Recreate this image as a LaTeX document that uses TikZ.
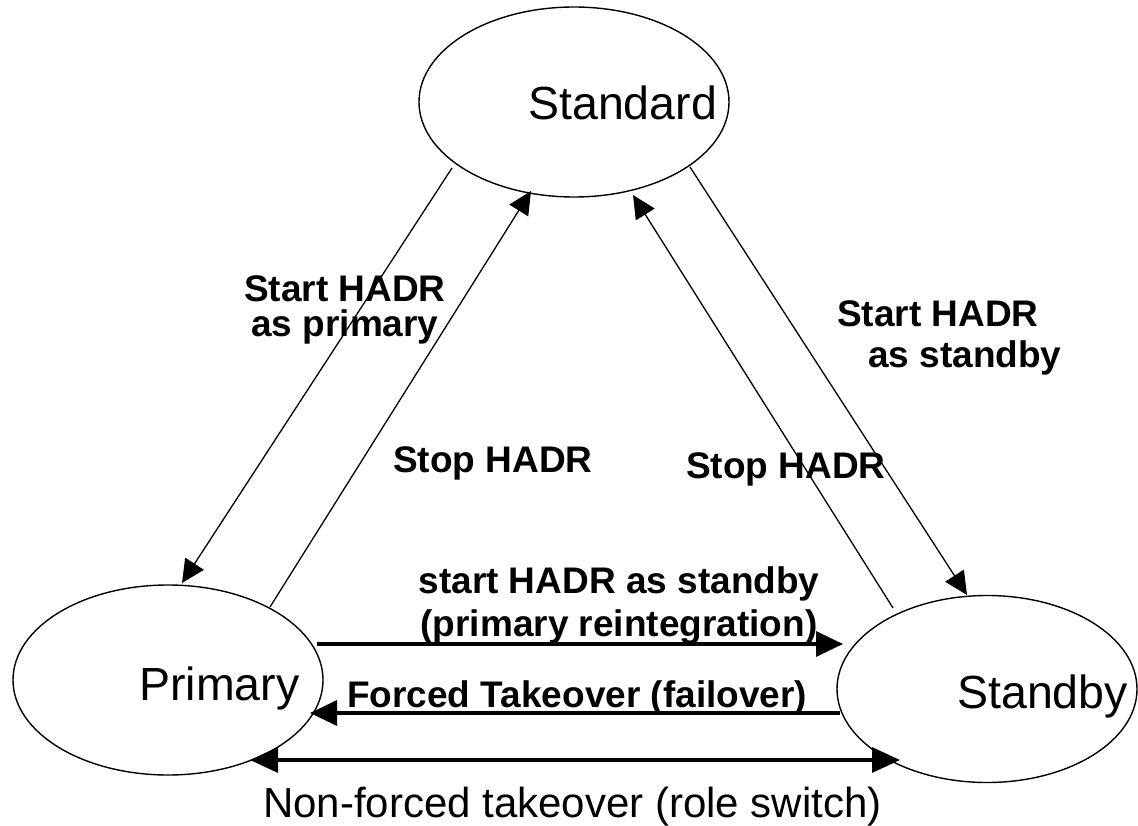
\documentclass[tikz,border=0pt]{standalone}
\usepackage{fontspec}
\setmainfont{Liberation Sans}
\usetikzlibrary{shapes.geometric,arrows.meta,calc}
\begin{document}
\begin{tikzpicture}[x=1pt,y=-1pt,
  state/.style={ellipse,draw,line width=1.4pt,minimum width=310pt,minimum height=190pt,inner sep=0pt,outer sep=0pt},
  statelabel/.style={font=\fontsize{46.5}{50}\selectfont,inner sep=0pt,anchor=base west},
  cmdlabel/.style={font=\fontsize{37}{#1}\bfseries\selectfont,inner sep=0pt},
  cmdlabel/.default=40,
  diag/.style={line width=1.3pt,-{Triangle[length=23pt,width=22pt]}},
  bar/.style={line width=3.4pt,-{Triangle[length=27pt,width=25pt]}},
  bothbar/.style={line width=3.4pt,{Triangle[length=28pt,width=25pt]}-{Triangle[length=28pt,width=25pt]}}
]
\useasboundingbox[fill=white] (0,0) rectangle (1138,826);

% states
\node[state] (std) at (574,102) {};
\node[state] (pri) at (168,680) {};
\node[state,minimum width=300pt,minimum height=187pt] (sby) at (987,689) {};
\node[statelabel] (stdtxt) at (528,120) {Standard};
\node[statelabel] (pritxt) at (139,700) {Primary};
\node[statelabel] (sbytxt) at (957,708) {Standby};

% transitions to and from Standard
\draw[diag] ($(std.center)+(-122,66)$) -- ($(pri.center)+(14,-97)$);
\draw[diag] ($(pri.center)+(102,-73)$) -- ($(std.center)+(-43,89)$);
\draw[diag] ($(sby.center)+(-94,-81)$) -- ($(std.center)+(59,93)$);
\draw[diag] ($(std.center)+(116,65)$) -- ($(sby.center)+(-20,-94)$);

% transitions between Primary and Standby
\draw[bar] ($(pri.center)+(149,-36)$) -- ($(sby.center)+(-144,-45)$);
\draw[bar] ($(sby.center)+(-147,24)$) -- ($(pri.center)+(142,33)$);
\draw[bothbar] ($(pri.center)+(82,80)$) -- ($(sby.center)+(-87,71)$);

% transition labels (multi-line nodes sit on the baseline of their last line)
\node[cmdlabel=35,align=center,anchor=base] (startpri) at (345,337) {Start HADR\\as primary};
\node[cmdlabel,anchor=base west] (stoppri) at (393,472) {Stop HADR};
\node[cmdlabel,anchor=base west] (stopsby) at (686,478) {Stop HADR};
\node[cmdlabel=41,align=left,anchor=base west] (startsby) at (837,367) {Start HADR\\\hspace*{31pt}as standby};
\node[cmdlabel=43,align=center,anchor=base] (reint) at (619,636) {start HADR as standby\\(primary reintegration)};
\node[cmdlabel,anchor=base west] (forced) at (347,707) {Forced Takeover (failover)};
\node[font=\fontsize{42}{46}\selectfont,inner sep=0pt,anchor=base west] (switch) at (263,817) {Non-forced takeover (role switch)};
\end{tikzpicture}
\end{document}
